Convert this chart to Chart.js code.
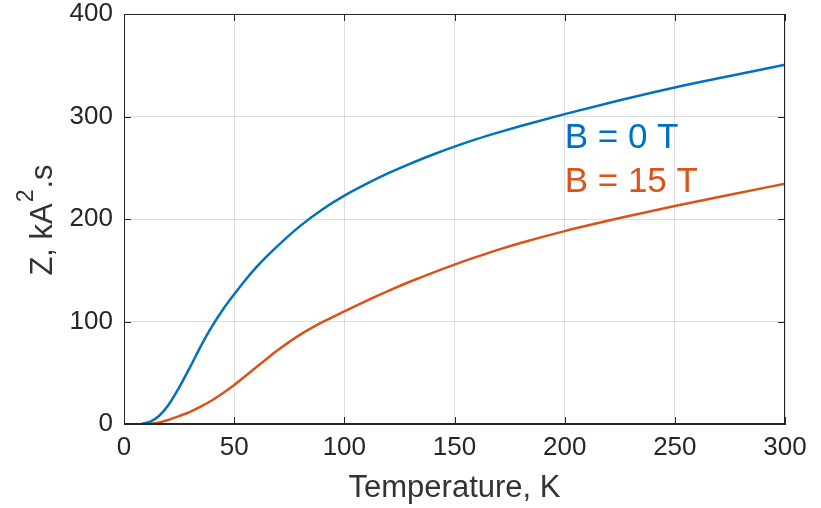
<!DOCTYPE html>
<html>
<head>
<meta charset="utf-8">
<script src="https://cdn.jsdelivr.net/npm/chart.js@4/dist/chart.umd.min.js"></script>
<style>
  html, body { margin: 0; padding: 0; background: #fff; }
  #wrap { width: 821px; height: 508px; }
</style>
</head>
<body>
<div id="wrap"><canvas id="zChart"></canvas></div>
<script>
// temperature, K
var temps = [8, 12, 16, 20, 25, 30, 35, 40, 45, 50, 55, 60, 65, 70, 80, 90, 100, 110, 120, 130, 140, 150, 160, 170, 180, 200, 225, 250, 275, 300];
// Z, kA^2.s
var zB0  = [0, 2.4, 8, 18, 35.5, 55.5, 76.5, 95.5, 112, 126.5, 140.3, 152.8, 164, 174.3, 193.3, 209.3, 222.8, 234.3, 244.7, 254.1, 262.7, 270.6, 277.9, 284.5, 290.7, 302.3, 315.8, 328.3, 339.5, 350.5];
var zB15 = [0, 0.3, 1.5, 3.9, 7.7, 11.9, 17.2, 23.2, 30.2, 38, 46.6, 55.3, 64, 72.4, 87.2, 99.3, 109.9, 120.2, 129.9, 139, 147.5, 155.5, 163, 170.1, 176.6, 188.2, 200.9, 212.7, 223.7, 234.4];
var xTicks = [0, 50, 100, 150, 200, 250, 300];
var yTicks = [0, 100, 200, 300, 400];
var seriesLabels = ['B = 0 T', 'B = 15 T'];

var FONT = "'Liberation Sans', Arial, Helvetica, sans-serif";
var AXIS = '#262626';
var BLUE = '#0072BD';
var ORANGE = '#D95319';

function toPoints(ys) {
    return temps.map(function (t, i) { return { x: t, y: ys[i] }; });
}

// full box with inward ticks, matlab style
var boxPlugin = {
    id: 'box',
    afterDatasetsDraw: function (chart) {
        var ctx = chart.ctx, a = chart.chartArea;
        var xs = chart.scales.x, ys = chart.scales.y;
        ctx.save();
        ctx.strokeStyle = AXIS;
        ctx.lineWidth = 1;
        ctx.strokeRect(a.left + 0.5, a.top + 0.5, a.right - a.left - 1, a.bottom - a.top - 1);
        ctx.beginPath();
        xTicks.forEach(function (v) {
            var px = Math.round(xs.getPixelForValue(v)) + 0.5;
            ctx.moveTo(px, a.bottom); ctx.lineTo(px, a.bottom - 7);
            ctx.moveTo(px, a.top); ctx.lineTo(px, a.top + 7);
        });
        yTicks.forEach(function (v) {
            var py = Math.round(ys.getPixelForValue(v)) + 0.5;
            ctx.moveTo(a.left, py); ctx.lineTo(a.left + 7, py);
            ctx.moveTo(a.right, py); ctx.lineTo(a.right - 7, py);
        });
        ctx.stroke();

        // series labels inside the plot
        ctx.font = '35px ' + FONT;
        ctx.textAlign = 'left';
        ctx.textBaseline = 'alphabetic';
        var lx = xs.getPixelForValue(200);
        ctx.fillStyle = '#0070C0';
        ctx.fillText(seriesLabels[0], lx, ys.getPixelForValue(269));
        ctx.fillStyle = '#D9541A';
        ctx.fillText(seriesLabels[1], lx, ys.getPixelForValue(226));

        // y title with superscript
        ctx.fillStyle = '#333333';
        ctx.translate(52, (a.top + a.bottom) / 2 + 2);
        ctx.rotate(-Math.PI / 2);
        var big = '31px ' + FONT, small = '23px ' + FONT;
        ctx.font = big;
        var w1 = ctx.measureText('Z, kA').width;
        var w3 = ctx.measureText('.s').width;
        ctx.font = small;
        var w2 = ctx.measureText('2').width;
        var x0 = -(w1 + w2 + w3) / 2;
        ctx.font = big;
        ctx.fillText('Z, kA', x0, 0);
        ctx.font = small;
        ctx.fillText('2', x0 + w1 + 1, -19);
        ctx.font = big;
        ctx.fillText('.s', x0 + w1 + w2 + 2, 0);
        ctx.restore();
    }
};

var ctx = document.getElementById('zChart').getContext('2d');
var zChart = new Chart(ctx, {
    type: 'line',
    data: {
        datasets: [{
            label: seriesLabels[0],
            data: toPoints(zB0),
            borderColor: BLUE,
            borderWidth: 2.5,
            pointRadius: 0,
            cubicInterpolationMode: 'monotone',
            fill: false
        }, {
            label: seriesLabels[1],
            data: toPoints(zB15),
            borderColor: ORANGE,
            borderWidth: 2.5,
            pointRadius: 0,
            cubicInterpolationMode: 'monotone',
            fill: false
        }]
    },
    options: {
        responsive: true,
        maintainAspectRatio: false,
        animation: false,
        layout: { padding: { top: 14, right: 36, left: 0, bottom: 0 } },
        plugins: {
            legend: { display: false },
            tooltip: { enabled: false }
        },
        scales: {
            x: {
                type: 'linear',
                min: 0,
                max: 300,
                afterFit: function (s) { s.height = 84; },
                afterBuildTicks: function (s) { s.ticks = xTicks.map(function (v) { return { value: v }; }); },
                ticks: { color: AXIS, padding: 0, font: { family: FONT, size: 26 }, maxRotation: 0 },
                grid: { color: 'rgba(0,0,0,0.13)', drawTicks: true, tickLength: 8, tickColor: 'rgba(0,0,0,0)' },
                border: { display: true, color: AXIS },
                title: {
                    display: true,
                    text: 'Temperature, K',
                    color: '#333333',
                    font: { family: FONT, size: 31 },
                    padding: { top: 0, bottom: 1 }
                }
            },
            y: {
                min: 0,
                max: 400,
                afterFit: function (s) { s.width = 124; },
                afterBuildTicks: function (s) { s.ticks = yTicks.map(function (v) { return { value: v }; }); },
                ticks: { color: AXIS, padding: 0, font: { family: FONT, size: 26, lineHeight: 1 } },
                grid: { color: 'rgba(0,0,0,0.13)', drawTicks: true, tickLength: 11, tickColor: 'rgba(0,0,0,0)' },
                border: { display: true, color: AXIS }
            }
        }
    },
    plugins: [boxPlugin]
});
</script>
</body>
</html>
